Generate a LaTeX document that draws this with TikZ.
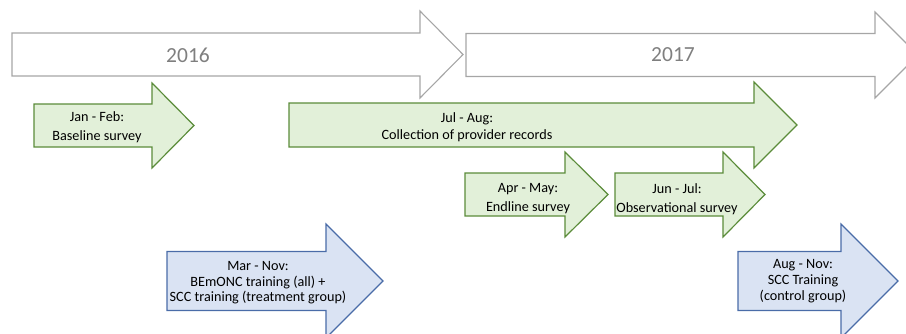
\documentclass[tikz,border=0pt]{standalone}
\usepackage{fontspec}
\setmainfont{Carlito}
\definecolor{yearline}{HTML}{A6A6A6}
\definecolor{yeartext}{HTML}{7F7F7F}
\definecolor{greenfill}{HTML}{E2F0D9}
\definecolor{greenline}{HTML}{5B8C3A}
\definecolor{bluefill}{HTML}{DAE3F3}
\definecolor{blueline}{HTML}{4A6CA8}
% block arrow: style, left x, head start x, tip x, centre y, body half height, head half height
\newcommand{\tlarrow}[7]{%
  \draw[#1] (#2,#5-#6) -- (#3,#5-#6) -- (#3,#5-#7) -- (#4,#5)
    -- (#3,#5+#7) -- (#3,#5+#6) -- (#2,#5+#6) -- cycle;}
\begin{document}
\begin{tikzpicture}[x=1pt,y=-1pt,
  yeararrow/.style={draw=yearline,fill=white,line width=1.1pt,line join=miter},
  greenarrow/.style={draw=greenline,fill=greenfill,line width=1.2pt,line join=miter},
  bluearrow/.style={draw=blueline,fill=bluefill,line width=1.2pt,line join=miter},
  yearlabel/.style={text=yeartext,font=\fontsize{21.5}{25}\selectfont,inner sep=0pt},
  phase/.style={align=center,inner sep=0pt,font=\fontsize{14.2}{#1}\selectfont},
  phase/.default=18]
\useasboundingbox (0,0) rectangle (906,333);
% year bands
\tlarrow{yeararrow}{12}{420}{463}{54.5}{21.5}{43.5}
\tlarrow{yeararrow}{466}{875}{918}{55}{21.5}{43}
\node[yearlabel] (y2016) at (188,55) {2016};
\node[yearlabel] (y2017) at (673,55) {2017};
% data collection
\tlarrow{greenarrow}{34}{152}{194}{125.5}{21.5}{42.5}
\tlarrow{greenarrow}{289}{754}{797}{125}{22}{43}
\tlarrow{greenarrow}{465}{565}{608}{194.5}{21.5}{42.5}
\tlarrow{greenarrow}{615}{723}{765}{194.5}{21.5}{42.5}
\node[phase=19] (baseline) at (97,127) {Jan - Feb:\\Baseline survey};
\node[phase=17] (records) at (467,127) {Jul - Aug:\\Collection of provider records};
\node[phase=19] (endline) at (528,199) {Apr - May:\\Endline survey};
\node[phase=19] (observe) at (677,199) {Jun - Jul:\\Observational survey};
% trainings
\tlarrow{bluearrow}{167}{326}{383}{281}{29.5}{57}
\tlarrow{bluearrow}{738}{841}{898}{281}{29.5}{57}
\node[phase=15.5] (bemonc) at (258,283) {Mar - Nov:\\BEmONC training (all) +\\SCC training (treatment group)};
\node[phase=16] (scc) at (803,281) {Aug - Nov:\\SCC Training\\(control group)};
\end{tikzpicture}
\end{document}
